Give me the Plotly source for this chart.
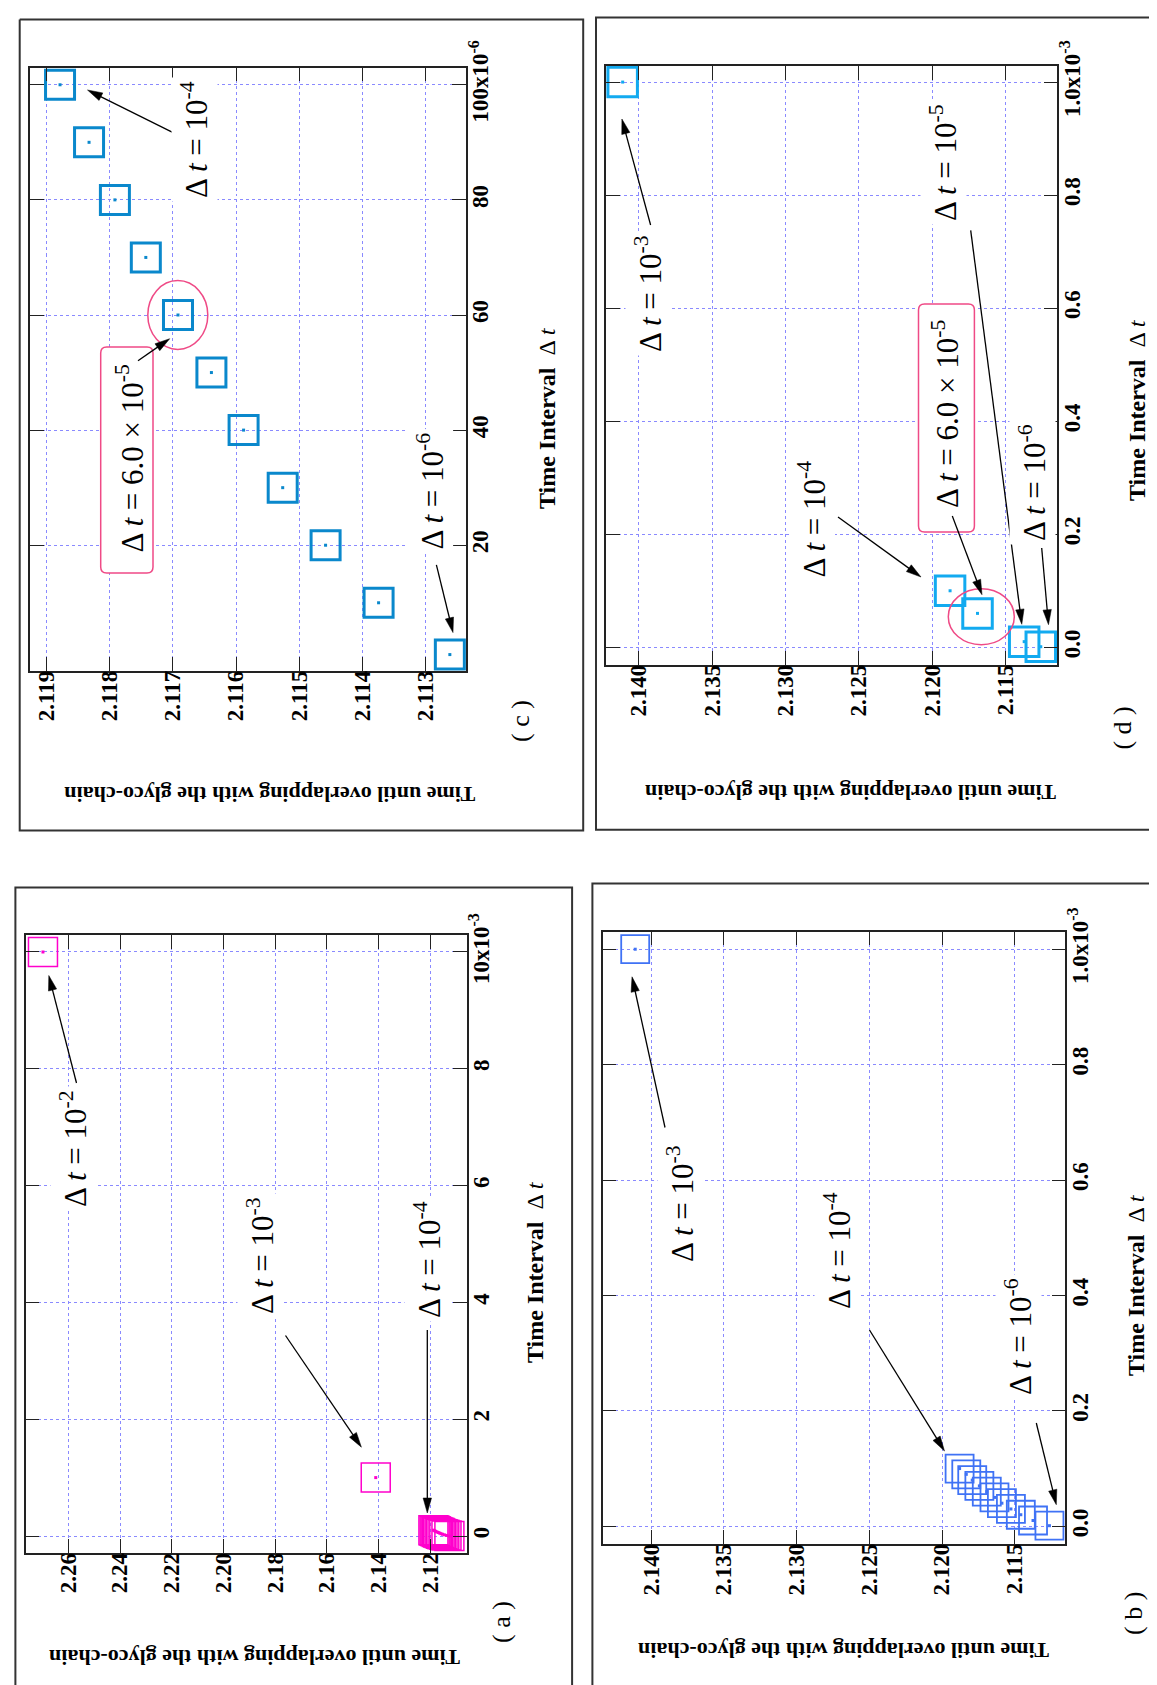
import math
import plotly.graph_objects as go

W, H = 1157, 1685

# ---------------- data ----------------
# time step (s) and time until overlapping with the glyco-chain
dt_fine = [1e-6, 10e-6, 20e-6, 30e-6, 40e-6, 50e-6, 60e-6, 70e-6, 80e-6, 90e-6, 100e-6]
t_fine = [2.11261, 2.11374, 2.11458, 2.11526, 2.11588, 2.11639, 2.11692, 2.11743, 2.11792, 2.11833, 2.11879]

dt_a = [1e-2, 1e-3] + dt_fine
t_a = [2.2698, 2.1411] + t_fine

dt_b = [1e-3] + dt_fine
t_b = [2.1411] + t_fine

dt_c = dt_fine
t_c = t_fine

dt_d = [1e-3, 1e-4, 6e-5, 1e-5, 1e-6]
t_d = [2.1411, 2.11879, 2.11692, 2.11374, 2.11261]

# tick values / labels
tt_a_vals = [2.12, 2.14, 2.16, 2.18, 2.20, 2.22, 2.24, 2.26]
tt_a_text = ["2.12", "2.14", "2.16", "2.18", "2.20", "2.22", "2.24", "2.26"]
dt_a_vals = [0, 2e-3, 4e-3, 6e-3, 8e-3, 10e-3]
dt_a_text = ["0", "2", "4", "6", "8", "10x10<sup>-3</sup>"]

tt_bd_vals = [2.115, 2.120, 2.125, 2.130, 2.135, 2.140]
tt_bd_text = ["2.115", "2.120", "2.125", "2.130", "2.135", "2.140"]
dt_bd_vals = [0, 0.2e-3, 0.4e-3, 0.6e-3, 0.8e-3, 1.0e-3]
dt_bd_text = ["0.0", "0.2", "0.4", "0.6", "0.8", "1.0x10<sup>-3</sup>"]

tt_c_vals = [2.113, 2.114, 2.115, 2.116, 2.117, 2.118, 2.119]
tt_c_text = ["2.113", "2.114", "2.115", "2.116", "2.117", "2.118", "2.119"]
dt_c_vals = [20e-6, 40e-6, 60e-6, 80e-6, 100e-6]
dt_c_text = ["20", "40", "60", "80", "100x10<sup>-6</sup>"]

# ---------------- helpers ----------------
def fx(x):
    return x / W

def fy(y):
    return 1 - y / H

SERIF = "Liberation Serif"
GRID = "#8a8aff"
FRAME = "#222222"

panels = [
    dict(box=(17.7, 927, 458.7, 1545), xr=[2.27648, 2.10592], yr=[-0.291e-3, 10.291e-3],
         t=t_a, dt=dt_a, xv=tt_a_vals, xt=tt_a_text, yv=dt_a_vals, yt=dt_a_text,
         color="#ff00cc", size=29, lw=1.5),
    dict(box=(594.7, 923.5, 1057.3, 1535.7), xr=[2.143336, 2.11152], yr=[-0.0302e-3, 1.0307e-3],
         t=t_b, dt=dt_b, xv=tt_bd_vals, xt=tt_bd_text, yv=dt_bd_vals, yt=dt_bd_text,
         color="#3f72f5", size=28, lw=1.8),
    dict(box=(22.2, 59.5, 458, 662.7), xr=[2.119263, 2.112354], yr=[-1.8e-6, 103.0e-6],
         t=t_c, dt=dt_c, xv=tt_c_vals, xt=tt_c_text, yv=dt_c_vals, yt=dt_c_text,
         color="#0a88cc", size=29, lw=3),
    dict(box=(598.4, 58.2, 1049.3, 656.7), xr=[2.142208, 2.111484], yr=[-0.0308e-3, 1.0281e-3],
         t=t_d, dt=dt_d, xv=tt_bd_vals, xt=tt_bd_text, yv=dt_bd_vals, yt=dt_bd_text,
         color="#12aaf0", size=29.5, lw=3),
]

fig = go.Figure()
layout = dict(
    width=W, height=H, template="none",
    margin=dict(l=0, r=0, t=0, b=0, pad=0),
    paper_bgcolor="white", plot_bgcolor="white",
    showlegend=False,
)

for i, p in enumerate(panels, start=1):
    x0, y0, x1, y1 = p["box"]
    xa = "xaxis" if i == 1 else f"xaxis{i}"
    ya = "yaxis" if i == 1 else f"yaxis{i}"
    xid = "x" if i == 1 else f"x{i}"
    yid = "y" if i == 1 else f"y{i}"
    common = dict(
        ticks="inside", ticklen=14, tickwidth=1.3, tickcolor=FRAME,
        showline=True, linecolor=FRAME, linewidth=1.5, mirror="ticks",
        showgrid=True, gridcolor=GRID, griddash="dot", gridwidth=1,
        zeroline=False, tickangle=-90, automargin=False,
        tickfont=dict(family=SERIF, size=23, color="black", weight="bold"),
        tickmode="array", fixedrange=True,
    )
    layout[xa] = dict(common, domain=[fx(x0), fx(x1)], range=p["xr"], anchor=yid,
                      side="bottom", tickvals=p["xv"], ticktext=p["xt"], ticklabelstandoff=-11)
    layout[ya] = dict(common, domain=[fy(y1), fy(y0)], range=p["yr"], anchor=xid,
                      side="right", tickvals=p["yv"], ticktext=p["yt"], ticklabelstandoff=-7)
    fig.add_trace(go.Scatter(
        x=p["t"], y=p["dt"], xaxis=xid, yaxis=yid, mode="markers", cliponaxis=False,
        marker=dict(symbol="square-open", size=p["size"], color=p["color"],
                    line=dict(width=p["lw"], color=p["color"])),
        hoverinfo="skip"))
    fig.add_trace(go.Scatter(
        x=p["t"], y=p["dt"], xaxis=xid, yaxis=yid, mode="markers", cliponaxis=False,
        marker=dict(symbol="square", size=3, color=p["color"], line=dict(width=0)),
        hoverinfo="skip"))

fig.update_layout(**layout)

shapes = []
annotations = []

# outer page frames of each panel (open where they run off the page)
frame_paths = [
    [(564.1, 1690), (564.1, 879.4), (7.4, 879.4), (7.4, 1690)],
    [(1160, 875.5), (584.4, 875.5), (584.4, 1690)],
    [(11.7, 11.6), (575.2, 11.6), (575.2, 822.5), (11.7, 822.5), (11.7, 11.6)],
    [(1160, 9.5), (588, 9.5), (588, 821.7), (1160, 821.7)],
]
for pts in frame_paths:
    path = "M" + " L".join(f"{fx(a)},{fy(b)}" for a, b in pts)
    shapes.append(dict(type="path", xref="paper", yref="paper", path=path,
                       line=dict(color="#333333", width=2), layer="below"))

PINK = "#ef4a86"

def rrect_path(x0, y0, x1, y1, r):
    pts = []
    pts.append(f"M{fx(x0 + r)},{fy(y0)}")
    pts.append(f"L{fx(x1 - r)},{fy(y0)}")
    pts.append(f"Q{fx(x1)},{fy(y0)} {fx(x1)},{fy(y0 + r)}")
    pts.append(f"L{fx(x1)},{fy(y1 - r)}")
    pts.append(f"Q{fx(x1)},{fy(y1)} {fx(x1 - r)},{fy(y1)}")
    pts.append(f"L{fx(x0 + r)},{fy(y1)}")
    pts.append(f"Q{fx(x0)},{fy(y1)} {fx(x0)},{fy(y1 - r)}")
    pts.append(f"L{fx(x0)},{fy(y0 + r)}")
    pts.append(f"Q{fx(x0)},{fy(y0)} {fx(x0 + r)},{fy(y0)}")
    pts.append("Z")
    return " ".join(pts)

# pink rounded boxes (c) and (d)
for (a, b, c, d) in [(92.7, 339, 145, 565), (910.5, 296, 966.4, 524)]:
    shapes.append(dict(type="path", xref="paper", yref="paper", path=rrect_path(a, b, c, d, 6),
                       fillcolor="white", line=dict(color=PINK, width=1.5), layer="above"))

# pink ellipses around the 6.0e-5 point
for (cx, cy, rx, ry) in [(169.8, 307, 30, 34.4), (973.3, 608.7, 33, 28)]:
    shapes.append(dict(type="circle", xref="paper", yref="paper", x0=fx(cx - rx), x1=fx(cx + rx),
                       y0=fy(cy + ry), y1=fy(cy - ry), line=dict(color=PINK, width=1.5),
                       fillcolor="rgba(0,0,0,0)", layer="above"))

# arrows (tail -> head) in page pixels
arrows = [
    (68.5, 1075, 40.8, 967.5), (277.5, 1327.5, 353.4, 1439.2), (419.3, 1322, 419.3, 1505),
    (657, 1119.5, 624, 968.8), (861.5, 1322, 936.5, 1443), (1028.3, 1415, 1048.3, 1496.7),
    (164.6, 124.4, 79.5, 82), (130, 352.7, 161.7, 330.7), (428.4, 556.8, 445, 624.6),
    (642.6, 217, 613.9, 111), (962.7, 222.3, 1013.8, 616.3), (944.3, 508, 974, 586.7),
    (830, 509, 913, 569), (1033.7, 540, 1040.5, 616.7),
]
HL, HW = 15, 4.2
for (tx, ty, hx, hy) in arrows:
    L = math.hypot(hx - tx, hy - ty)
    ux, uy = (hx - tx) / L, (hy - ty) / L
    bx, by = hx - ux * HL, hy - uy * HL
    shapes.append(dict(type="line", xref="paper", yref="paper", x0=fx(tx), y0=fy(ty),
                       x1=fx(bx + ux * 2), y1=fy(by + uy * 2), line=dict(color="black", width=1.3),
                       layer="above"))
    p1 = (bx - uy * HW, by + ux * HW)
    p2 = (bx + uy * HW, by - ux * HW)
    path = f"M{fx(hx)},{fy(hy)} L{fx(p1[0])},{fy(p1[1])} L{fx(p2[0])},{fy(p2[1])} Z"
    shapes.append(dict(type="path", xref="paper", yref="paper", path=path,
                       fillcolor="black", line=dict(color="black", width=0.5), layer="above"))


def label(x, y, text, size=31, angle=-90, bg=True, bold=False, pad=3):
    ann = dict(
        x=fx(x), y=fy(y), xref="paper", yref="paper", text=text, showarrow=False,
        textangle=angle, xanchor="center", yanchor="middle",
        font=dict(family=SERIF, size=size, color="black"),
        borderpad=pad)
    if bold:
        ann["font"]["weight"] = "bold"
    if bg:
        ann["bgcolor"] = "white"
    annotations.append(ann)


def dtl(e):
    return f"Δ <i>t</i> = 10<sup>{e}</sup>"

DT6 = "Δ <i>t</i> = 6.0 × 10<sup>-5</sup>"
XT = "<b>Time Interval</b>  Δ <i>t</i>"
YT = "Time until overlapping with the glyco-chain"

def titles(xt_pos, tag_pos, yt_pos, tag):
    label(xt_pos[0], xt_pos[1], XT, size=24, bg=False, pad=0)
    label(tag_pos[0], tag_pos[1], f"( {tag} )", size=26, bg=False, pad=0)
    label(yt_pos[0], yt_pos[1], YT, size=22, angle=180, bg=False, bold=True, pad=0)

# (a)
label(65, 1141, dtl("-2"))
label(252, 1248, dtl("-3"))
label(419, 1252, dtl("-4"))
titles((527, 1264), (493, 1614), (247, 1650), "a")
# (b)
label(672, 1196, dtl("-3"))
label(829, 1242, dtl("-4"))
label(1010, 1329, dtl("-6"))
titles((1128, 1277), (1125, 1606), (836, 1643), "b")
# (c)
label(187, 132, dtl("-4"))
label(122.5, 451, DT6, bg=False, pad=0)
label(422.6, 483, dtl("-6"))
titles((539, 410), (512, 713), (261.6, 787), "c")
# (d)
label(640, 286, dtl("-3"))
label(936, 155, dtl("-5"))
label(937, 406, DT6, bg=False, pad=0)
label(803.5, 511, dtl("-4"))
label(1024, 475, dtl("-6"))
titles((1129, 402), (1113.6, 720), (843, 785), "d")

fig.update_layout(shapes=shapes, annotations=annotations)
fig.write_html("out.html")
